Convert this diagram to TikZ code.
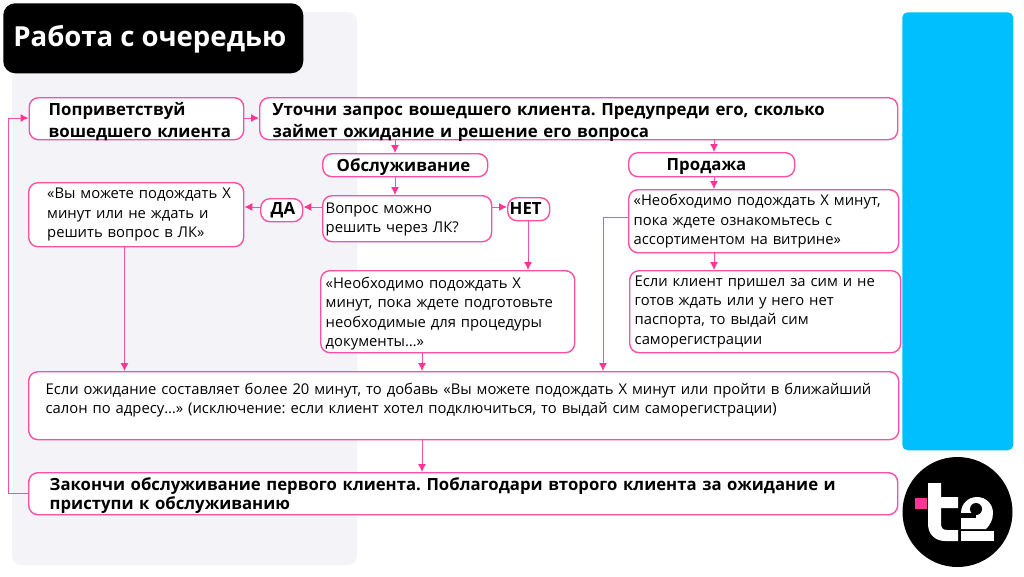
\documentclass[tikz,border=0pt]{standalone}
\usepackage{fontspec}
\setmainfont{Open Sans}
\usetikzlibrary{arrows.meta}
\definecolor{pk}{HTML}{FB4FA5}
\definecolor{pkdark}{HTML}{FF3495}
\definecolor{panel}{HTML}{F4F4F8}
\definecolor{sky}{HTML}{00BFFF}
\tikzset{
  px/.style={x=0.75pt,y=-0.75pt},
  bodyf/.style={font=\fontsize{11.1}{14.6}\selectfont},
  boldf/.style={font=\fontsize{12.6}{16.5}\selectfont\bfseries},
  bx/.style={draw=pk,fill=white,line width=1.05pt,rounded corners=7pt,anchor=north west,inner ysep=0pt,inner xsep=0.75pt,align=left},
  arr/.style={draw=pk,line width=0.75pt,-{Latex[length=6pt,width=6pt,color=pkdark]}}
}
% name, x1, y1, x2, y2, left inset, style, text; \ptrail = space kept after the text (negative moves the text down)
\newcommand{\ptrail}{0pt}
\newcommand{\pbox}[8]{%
  \pgfmathsetmacro{\pw}{(#4-#2)*0.75}%
  \pgfmathsetmacro{\ph}{(#5-#3)*0.75}%
  \pgfmathsetmacro{\pin}{(#6-1)*0.75}%
  \pgfmathsetmacro{\ptw}{\pw-1.5}%
  \node[bx,#7,minimum width=\pw pt,minimum height=\ph pt,text width=\ptw pt] (#1) at (#2,#3) {\frenchspacing\lineskiplimit=-20pt\leftskip=\pin pt #8\par\kern\ptrail\hrule height 0pt width 0pt};%
}
\begin{document}
\begin{tikzpicture}[px]
\useasboundingbox (0,0) rectangle (1024,576);
\fill[white] (0,0) rectangle (1024,576);
\fill[panel,rounded corners=7pt] (12,12) rectangle (357,565);
\node[fill=sky,rounded corners=4pt,minimum width=83.25pt,minimum height=328.5pt,anchor=north west,inner sep=0pt] (blue) at (902,12) {};
\node[fill=black,rounded corners=9pt,minimum width=225pt,minimum height=52.5pt,anchor=north west,inner sep=0pt] (titlebox) at (3,3) {};
\node[anchor=base west,inner sep=0pt,text=white,font=\fontsize{20.7}{24}\selectfont\bfseries] (title) at (13,46) {Работа с очередью};

\renewcommand{\ptrail}{-5pt}
\pbox{greet}{28.5}{97}{243}{139}{19.5}{boldf}{Поприветствуй\\вошедшего клиента}
\pbox{clar}{259}{97}{897}{139}{13}{boldf}{Уточни запрос вошедшего клиента. Предупреди его, сколько\\займет ожидание и решение его вопроса}
\renewcommand{\ptrail}{-3pt}
\pbox{obs}{322}{153}{487}{176}{14}{boldf}{Обслуживание}
\pbox{sale}{628}{152}{794}{176}{38}{boldf}{Продажа}
\renewcommand{\ptrail}{-1.5pt}
\pbox{ask}{322}{195}{491}{241}{3}{bodyf}{Вопрос можно\\решить через ЛК?}
\renewcommand{\ptrail}{0pt}
\pbox{yes}{260}{198}{302}{221}{10}{boldf}{ДА}
\pbox{wait}{28}{182}{243}{246}{18.5}{bodyf}{«Вы можете подождать Х\\минут или не ждать и\\решить вопрос в ЛК»}
\renewcommand{\ptrail}{1pt}
\pbox{no}{507}{197}{549}{220}{2}{boldf}{НЕТ}
\renewcommand{\ptrail}{-3pt}
\pbox{need}{320}{270}{574}{352}{5}{bodyf}{«Необходимо подождать Х\\минут, пока ждете подготовьте\\необходимые для процедуры\\документы…»}
\renewcommand{\ptrail}{0pt}
\pbox{look}{628}{189}{898}{252}{5}{bodyf}{«Необходимо подождать Х минут,\\пока ждете ознакомьтесь с\\ассортиментом на витрине»}
\pbox{sim}{629}{270}{900}{352}{5}{bodyf}{Если клиент пришел за сим и не\\готов ждать или у него нет\\паспорта, то выдай сим\\саморегистрации}
\renewcommand{\ptrail}{8.5pt}
\pbox{over}{28}{371}{898}{439}{17}{bodyf}{Если ожидание составляет более 20 минут, то добавь «Вы можете подождать Х минут или пройти в ближайший\\салон по адресу…» (исключение: если клиент хотел подключиться, то выдай сим саморегистрации)}
\renewcommand{\ptrail}{-3pt}
\pbox{finish}{28}{472}{897}{514}{21}{boldf,font=\fontsize{12.55}{14}\selectfont\bfseries}{Закончи обслуживание первого клиента. Поблагодари второго клиента за ожидание и\\приступи к обслуживанию}

\coordinate (xa) at (395,0);
\coordinate (xb) at (714,0);
\coordinate (xc) at (528,0);
\coordinate (xd) at (124.5,0);
\coordinate (xe) at (422,0);
\coordinate (xf) at (603,0);
\coordinate (xg) at (8,0);
\coordinate (ya) at (0,118);
\coordinate (yb) at (0,207);
\coordinate (yc) at (0,217);
\coordinate (yd) at (0,493);

\draw[arr] (greet.east |- ya) -- (clar.west |- ya);
\draw[arr] (xa |- clar.south) -- (xa |- obs.north);
\draw[arr] (xa |- obs.south) -- (xa |- ask.north);
\draw[arr] (xb |- clar.south) -- (xb |- sale.north);
\draw[arr] (xb |- sale.south) -- (xb |- look.north);
\draw[arr] (xb |- look.south) -- (xb |- sim.north);
\draw[arr] (ask.west |- yb) -- (yes.east |- yb);
\draw[arr] (yes.west |- yb) -- (wait.east |- yb);
\draw[arr] (ask.east |- yb) -- (no.west |- yb);
\draw[arr] (xc |- no.south) -- (xc |- need.north);
\draw[arr] (xd |- wait.south) -- (xd |- over.north);
\draw[arr] (xe |- need.south) -- (xe |- over.north);
\draw[arr] (xe |- over.south) -- (xe |- finish.north);
\draw[arr] (look.west |- yc) -- (xf |- yc) -- (xf |- over.north);
\draw[arr] (finish.west |- yd) -- (xg |- yd) -- (xg |- ya) -- (greet.west |- ya);

% logo
\fill[black] (957.5,512) circle[radius=41.25pt];
\fill[pkdark] (915,497.5) rectangle (927,508.5);
\fill[white] (928,483) -- (941,483) -- (941,497) -- (958,497) -- (958,508) -- (941,508) -- (941,524) .. controls (941,528) and (943,530) .. (947,530) -- (958,530) -- (958,541) -- (945,541) .. controls (935,541) and (928,534) .. (928,524) -- cycle;
\fill[white] (961,513) .. controls (961,504) and (968,497) .. (977,497) .. controls (986,497) and (993,504) .. (993,513) .. controls (993,520) and (990,525) .. (986,529) -- (961,529) -- cycle;
\fill[black] (976,509) circle[radius=4.5pt];
\fill[black] (961,513) rectangle (976,518);
\fill[white] (961,530.5) rectangle (994,541);
\end{tikzpicture}
\end{document}
